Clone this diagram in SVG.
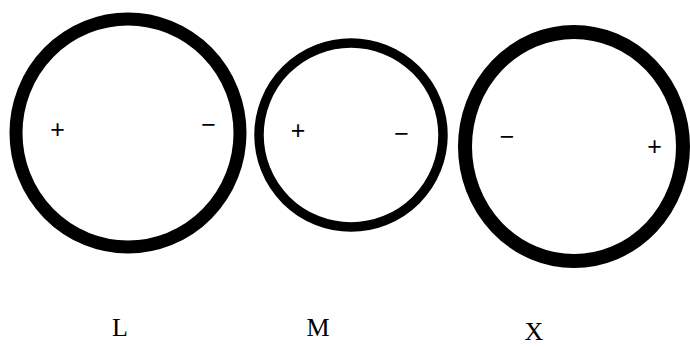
<svg xmlns="http://www.w3.org/2000/svg" width="690" height="348" viewBox="0 0 690 348">
<style>
.ring{fill:none;stroke:#000}
.sign{font-family:"Liberation Sans",Arial,sans-serif;font-size:25px;fill:#000;text-anchor:middle}
.lbl{font-family:"Liberation Serif","Times New Roman",serif;font-size:26px;fill:#000;text-anchor:middle}
</style>
<rect width="690" height="348" fill="#fff"/>
<g id="L">
<ellipse class="ring" cx="128" cy="133" rx="112" ry="114" stroke-width="13"/>
<text class="sign" x="57.5" y="138">+</text>
<text class="sign" x="208.5" y="133">−</text>
<text class="lbl" x="120" y="336">L</text>
</g>
<g id="M">
<ellipse class="ring" cx="351" cy="135" rx="92" ry="92" stroke-width="9.5"/>
<text class="sign" x="298" y="139">+</text>
<text class="sign" x="401.5" y="141.5">−</text>
<text class="lbl" x="318" y="336">M</text>
</g>
<g id="X">
<ellipse class="ring" cx="574" cy="146.5" rx="109" ry="114.5" stroke-width="14"/>
<text class="sign" x="507" y="145">−</text>
<text class="sign" x="654.5" y="154.5">+</text>
<text class="lbl" x="534" y="340">X</text>
</g>
<g id="connectors"/>
</svg>
